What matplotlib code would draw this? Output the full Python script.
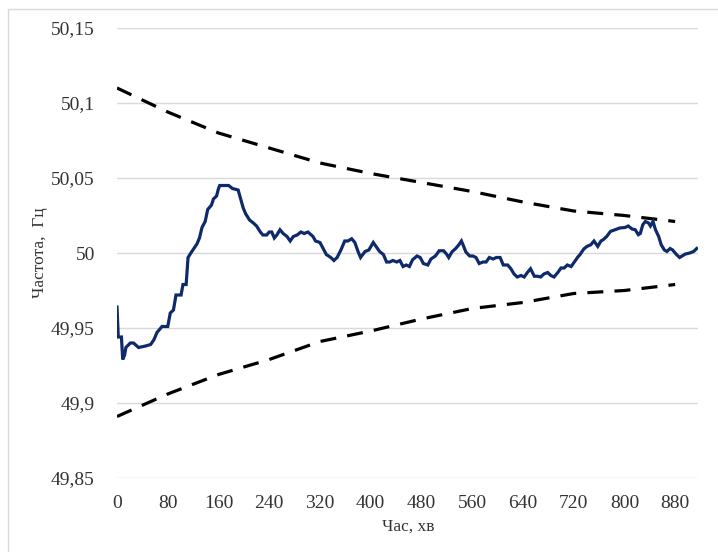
import matplotlib
matplotlib.use("Agg")
import matplotlib.pyplot as plt
from matplotlib.patches import Rectangle

plt.rcParams['font.family'] = ['Liberation Serif', 'DejaVu Serif']

# Measured frequency (time in minutes, frequency in Hz)
time_min = [0, 2, 7, 9, 12, 14, 21, 26, 34, 45, 53, 58, 63, 71, 80, 84, 89, 93, 101, 104, 109,
            112, 118, 126, 130, 134, 139, 143, 149, 152, 157, 160, 162, 176, 182, 191, 195, 199,
            203, 209, 215, 220, 226, 230, 236, 240, 244, 248, 252, 257, 262, 268, 273, 278, 284,
            290, 295, 301, 309, 313, 320, 325, 330, 337, 342, 347, 353, 359, 364, 370, 375, 380,
            384, 391, 397, 404, 409, 414, 420, 425, 430, 435, 441, 446, 451, 456, 461, 466, 473,
            478, 483, 490, 495, 502, 508, 515, 520, 523, 528, 534, 539, 543, 546, 550, 556, 561,
            566, 571, 577, 582, 587, 593, 598, 604, 609, 616, 621, 626, 631, 637, 642, 647, 652,
            658, 663, 668, 673, 679, 684, 689, 695, 700, 705, 710, 716, 721, 726, 730, 736, 741,
            747, 752, 758, 763, 767, 772, 778, 785, 793, 801, 806, 812, 817, 822, 825, 829, 833,
            838, 841, 845, 849, 854, 858, 863, 867, 872, 876, 882, 887, 891, 896, 903, 909, 914]
frequency = [49.964, 49.944, 49.944, 49.929, 49.932, 49.937, 49.940, 49.940, 49.937, 49.938,
             49.939, 49.942, 49.947, 49.951, 49.951, 49.960, 49.962, 49.972, 49.972, 49.979,
             49.979, 49.997, 50.001, 50.006, 50.010, 50.017, 50.021, 50.029, 50.032, 50.036,
             50.038, 50.043, 50.045, 50.045, 50.043, 50.042, 50.036, 50.030, 50.026, 50.022,
             50.020, 50.018, 50.014, 50.012, 50.012, 50.014, 50.014, 50.010, 50.012, 50.0155,
             50.013, 50.011, 50.008, 50.011, 50.012, 50.014, 50.013, 50.014, 50.011, 50.008,
             50.007, 50.003, 49.999, 49.997, 49.995, 49.997, 50.002, 50.008, 50.008, 50.0095,
             50.007, 50.001, 49.997, 50.001, 50.002, 50.007, 50.004, 50.001, 49.999, 49.994,
             49.994, 49.995, 49.994, 49.995, 49.991, 49.992, 49.991, 49.9955, 49.998, 49.997,
             49.993, 49.992, 49.996, 49.998, 50.0015, 50.0015, 49.999, 49.997, 50.0007, 50.003,
             50.0055, 50.008, 50.005, 50.0007, 49.998, 49.998, 49.997, 49.993, 49.994, 49.994,
             49.997, 49.996, 49.997, 49.997, 49.992, 49.992, 49.9895, 49.986, 49.984, 49.985,
             49.984, 49.987, 49.9895, 49.9845, 49.9845, 49.984, 49.986, 49.987, 49.985, 49.984,
             49.987, 49.990, 49.990, 49.992, 49.991, 49.994, 49.997, 49.999, 50.0027, 50.0044,
             50.0055, 50.008, 50.0044, 50.008, 50.009, 50.011, 50.0144, 50.0155, 50.0167, 50.017,
             50.018, 50.016, 50.0155, 50.0122, 50.013, 50.0189, 50.021, 50.020, 50.018, 50.021,
             50.0155, 50.011, 50.0055, 50.002, 50.001, 50.003, 50.002, 49.999, 49.997, 49.998,
             49.9993, 50.000, 50.001, 50.003]

# Permissible limits (dashed)
limit_time = [0, 80, 160, 240, 320, 400, 480, 560, 640, 720, 800, 880]
upper_limit = [50.110, 50.094, 50.080, 50.070, 50.060, 50.053, 50.047, 50.041, 50.034, 50.028, 50.025, 50.021]
lower_limit = [49.891, 49.906, 49.919, 49.929, 49.941, 49.948, 49.956, 49.963, 49.967, 49.973, 49.975, 49.979]

x_ticks = [0, 80, 160, 240, 320, 400, 480, 560, 640, 720, 800, 880]
y_ticks = [49.85, 49.9, 49.95, 50.0, 50.05, 50.1, 50.15]
y_tick_labels = ['49,85', '49,9', '49,95', '50', '50,05', '50,1', '50,15']

W, H = 718, 552
fig = plt.figure(figsize=(W / 100, H / 100), dpi=100)
ax = fig.add_axes([117 / W, 1 - 478 / H, (698 - 117) / W, (478 - 28) / H])

ax.plot(limit_time, upper_limit, color='black', lw=2.3, linestyle=(0, (5, 3.5)), zorder=3)
ax.plot(limit_time, lower_limit, color='black', lw=2.3, linestyle=(0, (5, 3.5)), zorder=3)
ax.plot(time_min, frequency, color='#0f2a6b', lw=2.3, zorder=4, solid_joinstyle='miter')

ax.set_xlim(0, 916)
ax.set_ylim(49.85, 50.15)
ax.set_xticks(x_ticks)
ax.set_xticklabels([str(v) for v in x_ticks])
ax.set_yticks(y_ticks)
ax.set_yticklabels(y_tick_labels)
ax.grid(axis='y', color='#d9d9d9', lw=1)
ax.set_axisbelow(True)
for s in ax.spines.values():
    s.set_visible(False)
ax.tick_params(axis='both', length=0, labelsize=14, colors='#333333')
ax.tick_params(axis='x', pad=12)
ax.tick_params(axis='y', pad=16)

fig.text(40 / W, 1 - 253 / H, 'Частота,  Гц', rotation=90, ha='center', va='center',
         fontsize=12.5, color='#333333')
fig.text(408 / W, 1 - 527 / H, 'Час, хв', ha='center', va='center', fontsize=12.5, color='#333333')

fig.patches.append(Rectangle((8 / W, -0.1), 1.2, 1.1 - 9 / H, transform=fig.transFigure,
                             fill=False, edgecolor='#d9d9d9', lw=1))

fig.savefig('out.png', dpi=100)
